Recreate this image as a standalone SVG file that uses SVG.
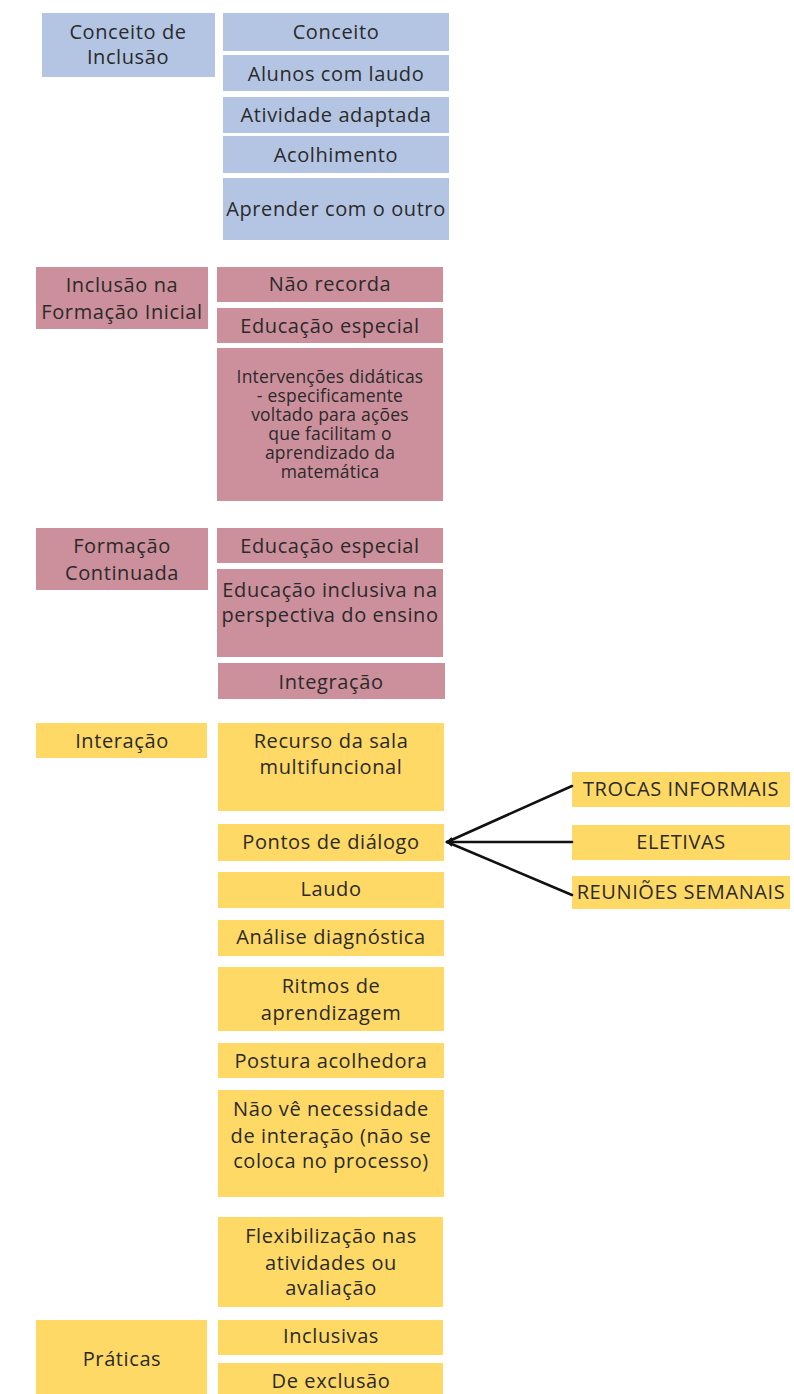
<svg xmlns="http://www.w3.org/2000/svg" width="794" height="1394" viewBox="0 0 794 1394">
<style>
.b{fill:#B4C5E4}
.p{fill:#CC909C}
.y{fill:#FFD966}
text{font-family:"Open Sans","Noto Sans",sans-serif;font-size:20px;letter-spacing:0.6px;fill:#2a2a2a;text-anchor:middle}
.sm{font-size:17.5px;letter-spacing:0.2px}
.cn{stroke:#111;stroke-width:2.6;fill:none;stroke-linecap:round}
</style>
<defs>
<marker id="ah" markerWidth="7" markerHeight="7" refX="1" refY="3.5" orient="auto" markerUnits="userSpaceOnUse">
<path d="M0,3.5 L7,0.8 L7,6.2 Z" fill="#111"/>
</marker>
</defs>
<rect width="794" height="1394" fill="#fff"/>

<g id="n-conceito-inclusao"><rect class="b" x="42" y="13" width="173" height="64"/><text x="128" y="39">Conceito de</text><text x="128" y="64">Inclusão</text></g>
<g id="n-conceito"><rect class="b" x="223" y="13" width="226" height="38"/><text x="336" y="39">Conceito</text></g>
<g id="n-alunos"><rect class="b" x="223" y="55" width="226" height="36"/><text x="336" y="81">Alunos com laudo</text></g>
<g id="n-atividade"><rect class="b" x="223" y="97" width="226" height="36"/><text x="336" y="122">Atividade adaptada</text></g>
<g id="n-acolhimento"><rect class="b" x="223" y="136" width="226" height="37"/><text x="336" y="162">Acolhimento</text></g>
<g id="n-aprender"><rect class="b" x="223" y="178" width="226" height="62"/><text x="336" y="216">Aprender com o outro</text></g>

<g id="n-formacao-inicial"><rect class="p" x="36" y="267" width="172" height="62"/><text x="122" y="292">Inclusão na</text><text x="122" y="319">Formação Inicial</text></g>
<g id="n-nao-recorda"><rect class="p" x="217" y="267" width="226" height="35"/><text x="330" y="291">Não recorda</text></g>
<g id="n-educ-especial-1"><rect class="p" x="217" y="308" width="226" height="35"/><text x="330" y="333">Educação especial</text></g>
<g id="n-intervencoes"><rect class="p" x="217" y="348" width="226" height="153"/>
<text class="sm" x="330" y="383">Intervenções didáticas</text>
<text class="sm" x="330" y="402">- especificamente</text>
<text class="sm" x="330" y="421">voltado para ações</text>
<text class="sm" x="330" y="440">que facilitam o</text>
<text class="sm" x="330" y="459">aprendizado da</text>
<text class="sm" x="330" y="478">matemática</text></g>

<g id="n-formacao-continuada"><rect class="p" x="36" y="528" width="172" height="62"/><text x="122" y="553">Formação</text><text x="122" y="580">Continuada</text></g>
<g id="n-educ-especial-2"><rect class="p" x="217" y="528" width="226" height="35"/><text x="330" y="553">Educação especial</text></g>
<g id="n-educ-inclusiva"><rect class="p" x="217" y="569" width="226" height="88"/><text x="330" y="597">Educação inclusiva na</text><text x="330" y="622">perspectiva do ensino</text></g>
<g id="n-integracao"><rect class="p" x="218" y="663" width="227" height="36"/><text x="331" y="689">Integração</text></g>

<g id="n-interacao"><rect class="y" x="36" y="723" width="171" height="35"/><text x="122" y="748">Interação</text></g>
<g id="n-recurso"><rect class="y" x="218" y="723" width="226" height="88"/><text x="331" y="748">Recurso da sala</text><text x="331" y="774">multifuncional</text></g>
<g id="n-pontos"><rect class="y" x="218" y="824" width="226" height="37"/><text x="331" y="849">Pontos de diálogo</text></g>
<g id="n-laudo"><rect class="y" x="218" y="872" width="226" height="36"/><text x="331" y="896">Laudo</text></g>
<g id="n-analise"><rect class="y" x="218" y="920" width="226" height="36"/><text x="331" y="944">Análise diagnóstica</text></g>
<g id="n-ritmos"><rect class="y" x="218" y="967" width="226" height="64"/><text x="331" y="993">Ritmos de</text><text x="331" y="1020">aprendizagem</text></g>
<g id="n-postura"><rect class="y" x="218" y="1043" width="226" height="35"/><text x="331" y="1068">Postura acolhedora</text></g>
<g id="n-nao-ve"><rect class="y" x="218" y="1090" width="226" height="107"/><text x="331" y="1116">Não vê necessidade</text><text x="331" y="1143">de interação (não se</text><text x="331" y="1168">coloca no processo)</text></g>
<g id="n-flex"><rect class="y" x="218" y="1217" width="225" height="90"/><text x="331" y="1243">Flexibilização nas</text><text x="331" y="1270">atividades ou</text><text x="331" y="1295">avaliação</text></g>
<g id="n-praticas"><rect class="y" x="36" y="1320" width="171" height="74"/><text x="122" y="1366">Práticas</text></g>
<g id="n-inclusivas"><rect class="y" x="218" y="1320" width="225" height="35"/><text x="331" y="1343">Inclusivas</text></g>
<g id="n-exclusao"><rect class="y" x="218" y="1363" width="225" height="31"/><text x="331" y="1388">De exclusão</text></g>

<g id="n-trocas"><rect class="y" x="572" y="772" width="218" height="35"/><text x="681" y="796">TROCAS INFORMAIS</text></g>
<g id="n-eletivas"><rect class="y" x="572" y="825" width="218" height="35"/><text x="681" y="849">ELETIVAS</text></g>
<g id="n-reunioes"><rect class="y" x="572" y="876" width="218" height="33"/><text x="681" y="899">REUNIÕES SEMANAIS</text></g>

<g id="connectors">
<line class="cn" x1="447" y1="842" x2="572" y2="786" marker-start="url(#ah)"/>
<line class="cn" x1="447" y1="842" x2="572" y2="842" marker-start="url(#ah)"/>
<line class="cn" x1="447" y1="842" x2="572" y2="895" marker-start="url(#ah)"/>
</g>
</svg>
